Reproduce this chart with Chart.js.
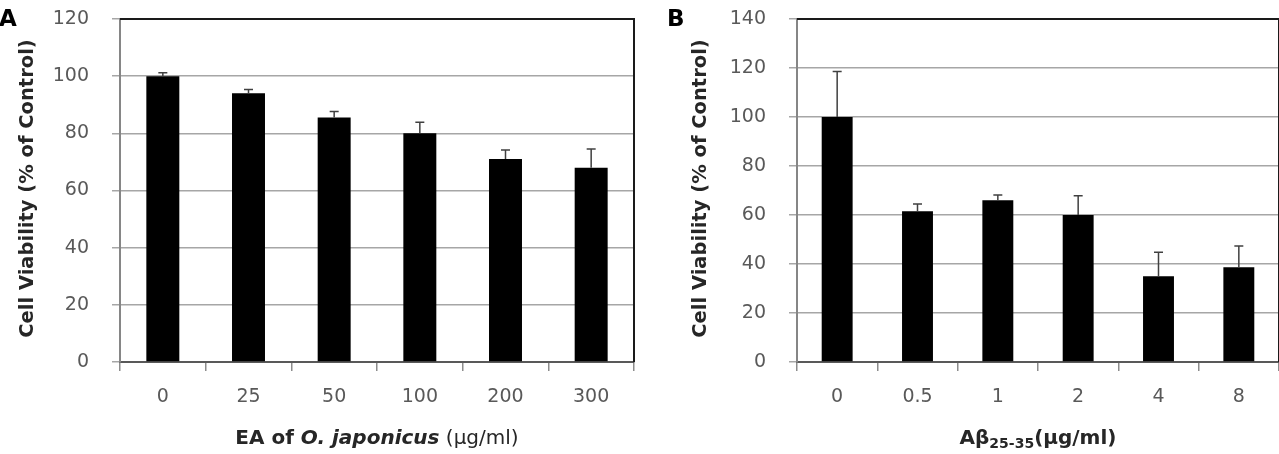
<!DOCTYPE html>
<html>
<head>
<meta charset="utf-8">
<script src="https://cdn.jsdelivr.net/npm/chart.js@4.4.1/dist/chart.umd.min.js"></script>
<style>
  html, body { margin: 0; padding: 0; background: #fff; }
  #wrap { position: relative; width: 1279px; height: 454px; overflow: hidden; }
  canvas { position: absolute; top: 0; }
  #chartA { left: 0; }
  #chartB { left: 640px; }
</style>
</head>
<body>
<div id="wrap">
  <canvas id="chartA" width="640" height="454"></canvas>
  <canvas id="chartB" width="639" height="454"></canvas>
</div>
<script>
// Panel A - EA of O. japonicus
const doseA = ['0', '25', '50', '100', '200', '300'];
const viabilityA = [100, 94, 85.5, 80, 71, 68];
const errorA = [1.2, 1.3, 2.1, 3.9, 3.2, 6.5];
const yMaxA = 120;

// Panel B - Abeta 25-35
const doseB = ['0', '0.5', '1', '2', '4', '8'];
const viabilityB = [100, 61.5, 66, 60, 35, 38.7];
const errorB = [18.6, 3, 2.2, 7.9, 9.8, 8.6];
const yMaxB = 140;

const yStep = 20;
const yTitle = 'Cell Viability (% of Control)';

const FONT = '"DejaVu Sans", sans-serif';

// error bars (upper only) from the bar scale
const errorBarPlugin = {
  id: 'errorBars',
  afterDatasetsDraw(chart, args, opts) {
    const ctx = chart.ctx;
    const y = chart.scales.y;
    const meta = chart.getDatasetMeta(0);
    const values = chart.data.datasets[0].data;
    ctx.save();
    ctx.strokeStyle = '#404040';
    ctx.lineWidth = 1.5;
    meta.data.forEach((bar, i) => {
      const top = y.getPixelForValue(values[i] + opts.errors[i]);
      const base = y.getPixelForValue(values[i]);
      ctx.beginPath();
      ctx.moveTo(bar.x, base);
      ctx.lineTo(bar.x, top);
      ctx.moveTo(bar.x - 4.5, top);
      ctx.lineTo(bar.x + 4.5, top);
      ctx.stroke();
    });
    ctx.restore();
  }
};

// top + right frame, panel letter, axis titles
const frameTextPlugin = {
  id: 'frameText',
  afterDraw(chart, args, opts) {
    const ctx = chart.ctx;
    const a = chart.chartArea;
    ctx.save();
    ctx.strokeStyle = '#1a1a1a';
    ctx.lineWidth = 2;
    ctx.beginPath();
    ctx.moveTo(a.left, a.top);
    ctx.lineTo(a.right, a.top);
    ctx.lineTo(a.right, a.bottom);
    ctx.stroke();

    ctx.fillStyle = '#000';
    ctx.font = 'bold 23px ' + FONT;
    ctx.textBaseline = 'middle';
    ctx.textAlign = 'left';
    ctx.fillText(opts.letter, opts.letterX, a.top + 1);

    // y title
    ctx.fillStyle = '#262626';
    ctx.font = 'bold 19.5px ' + FONT;
    ctx.textAlign = 'center';
    ctx.translate(a.left - opts.yTitleGap, (a.top + a.bottom) / 2 - 2);
    ctx.rotate(-Math.PI / 2);
    ctx.fillText(yTitle, 0, 0);
    ctx.setTransform(1, 0, 0, 1, 0, 0);

    // x title built from runs
    ctx.textAlign = 'left';
    ctx.textBaseline = 'alphabetic';
    let total = 0;
    opts.xTitle.forEach(r => { ctx.font = r.font; total += ctx.measureText(r.text).width; });
    let x = (a.left + a.right) / 2 - total / 2;
    opts.xTitle.forEach(r => {
      ctx.font = r.font;
      ctx.fillText(r.text, x, opts.xTitleY + (r.dy || 0));
      x += ctx.measureText(r.text).width;
    });
    ctx.restore();
  }
};

function makeChart(id, labels, values, errors, yMax, yWidth, padRight, extra) {
  return new Chart(document.getElementById(id), {
    type: 'bar',
    data: {
      labels: labels,
      datasets: [{
        data: values,
        backgroundColor: '#000',
        borderWidth: 0,
        barPercentage: 0.385,
        categoryPercentage: 1
      }]
    },
    options: {
      responsive: false,
      animation: false,
      devicePixelRatio: 1,
      layout: { padding: { top: 19, right: padRight, bottom: 0, left: 0 } },
      plugins: {
        legend: { display: false },
        tooltip: { enabled: false },
        errorBars: { errors: errors },
        frameText: extra
      },
      scales: {
        x: {
          afterFit(s) { s.height = 92; s.paddingLeft = 0; s.paddingRight = 0; },
          grid: { drawOnChartArea: false, drawTicks: true, tickLength: 9, color: '#8c8c8c', lineWidth: 1.5 },
          border: { color: '#595959', width: 2 },
          ticks: { color: '#595959', font: { family: FONT, size: 19 }, padding: 15 }
        },
        y: {
          min: 0,
          max: yMax,
          afterFit(s) { s.width = yWidth; s.paddingTop = 0; s.paddingBottom = 0; },
          grid: { color: '#a6a6a6', lineWidth: 1.5, tickLength: 8 },
          border: { color: '#868686', width: 2 },
          ticks: { stepSize: yStep, color: '#595959', font: { family: FONT, size: 19 }, padding: 23 }
        }
      }
    },
    plugins: [errorBarPlugin, frameTextPlugin]
  });
}

makeChart('chartA', doseA, viabilityA, errorA, yMaxA, 120, 6, {
  letter: 'A', letterX: -1, yTitleGap: 92, xTitleY: 444,
  xTitle: [
    { text: 'EA of ', font: 'bold 20px ' + FONT },
    { text: 'O. japonicus', font: 'italic bold 20px ' + FONT },
    { text: ' (\u03bcg/ml)', font: '20px ' + FONT }
  ]
});

makeChart('chartB', doseB, viabilityB, errorB, yMaxB, 157, 0, {
  letter: 'B', letterX: 27, yTitleGap: 96, xTitleY: 444,
  xTitle: [
    { text: 'A\u03b2', font: 'bold 20px ' + FONT },
    { text: '25-35', font: 'bold 14px ' + FONT, dy: 4 },
    { text: '(\u03bcg/ml)', font: 'bold 20px ' + FONT }
  ]
});
</script>
</body>
</html>
